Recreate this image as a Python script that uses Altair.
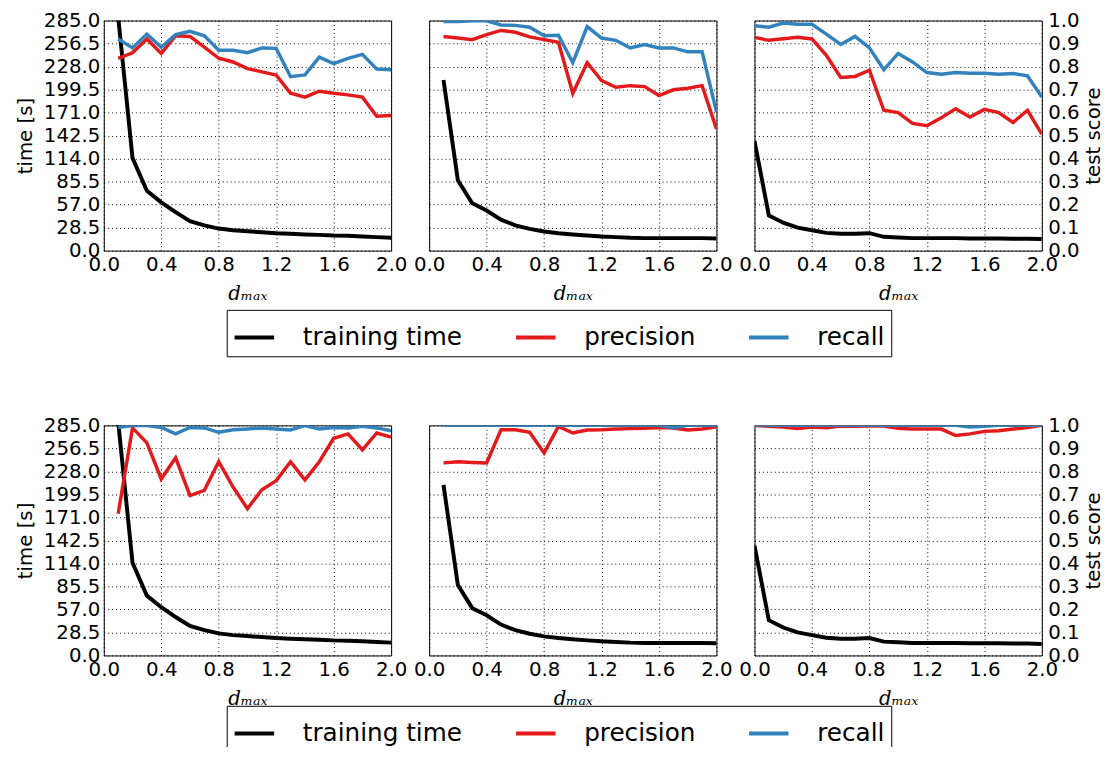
import altair as alt
import pandas as pd

# ---------------- data ----------------
d_a = [0.1, 0.2, 0.3, 0.4, 0.5, 0.6, 0.7, 0.8, 0.9, 1.0,
       1.1, 1.2, 1.3, 1.4, 1.5, 1.6, 1.7, 1.8, 1.9, 2.0]
d_c = [0.0, 0.1, 0.2, 0.3, 0.4, 0.5, 0.6, 0.7, 0.8, 0.9, 1.0,
       1.1, 1.2, 1.3, 1.4, 1.5, 1.6, 1.7, 1.8, 1.9, 2.0]

# training time [s] (same in both rows)
time_1 = [290.0, 114.8, 74.1, 59.8, 47.6, 36.6, 31.3, 27.3, 25.2, 24.0,
          22.8, 21.6, 20.8, 20.0, 19.5, 18.7, 18.3, 17.5, 16.7, 15.9]
time_2 = [211.3, 87.1, 58.6, 49.7, 38.3, 31.3, 26.9, 23.6, 21.6, 20.0,
          18.7, 17.5, 16.7, 15.9, 15.5, 15.5, 15.5, 15.5, 15.5, 15.1]
time_3 = [136.0, 43.6, 34.6, 28.5, 25.2, 22.0, 20.8, 20.8, 21.6, 17.1, 16.3,
          15.5, 15.5, 15.5, 15.5, 15.1, 15.1, 15.1, 14.7, 14.7, 14.3]

# top row scores
prec_1 = [0.836, 0.860, 0.920, 0.857, 0.934, 0.931, 0.884, 0.836, 0.820, 0.791,
          0.777, 0.763, 0.684, 0.667, 0.693, 0.684, 0.677, 0.667, 0.584, 0.587]
rec_1 = [0.920, 0.881, 0.941, 0.884, 0.939, 0.953, 0.934, 0.871, 0.871, 0.860,
         0.881, 0.879, 0.756, 0.764, 0.841, 0.813, 0.836, 0.853, 0.789, 0.786]
prec_2 = [0.931, 0.924, 0.917, 0.939, 0.957, 0.949, 0.929, 0.917, 0.906, 0.684,
          0.817, 0.739, 0.710, 0.717, 0.713, 0.674, 0.699, 0.706, 0.717, 0.529]
rec_2 = [0.996, 0.996, 0.999, 0.999, 0.981, 0.979, 0.971, 0.934, 0.936, 0.817,
         0.974, 0.924, 0.914, 0.881, 0.896, 0.881, 0.881, 0.864, 0.864, 0.603]
prec_3 = [0.927, 0.914, 0.921, 0.927, 0.920, 0.849, 0.753, 0.757, 0.784, 0.610, 0.600,
          0.553, 0.543, 0.577, 0.617, 0.581, 0.614, 0.600, 0.557, 0.610, 0.506]
rec_3 = [0.977, 0.971, 0.989, 0.984, 0.984, 0.941, 0.896, 0.931, 0.881, 0.786, 0.857,
         0.820, 0.774, 0.767, 0.774, 0.771, 0.771, 0.767, 0.770, 0.760, 0.667]

# bottom row scores
prec_4 = [0.616, 0.989, 0.924, 0.767, 0.859, 0.695, 0.718, 0.842, 0.732, 0.638,
          0.720, 0.760, 0.842, 0.763, 0.842, 0.944, 0.963, 0.894, 0.967, 0.949]
rec_4 = [0.991, 0.999, 0.999, 0.991, 0.963, 0.991, 0.989, 0.970, 0.981, 0.984,
         0.989, 0.984, 0.980, 0.999, 0.984, 0.991, 0.989, 0.996, 0.989, 0.977]
prec_5 = [0.837, 0.842, 0.839, 0.837, 0.981, 0.981, 0.970, 0.880, 0.996, 0.967,
          0.980, 0.981, 0.984, 0.986, 0.987, 0.991, 0.989, 0.980, 0.984, 0.994]
rec_5 = [1.0, 1.0, 1.0, 1.0, 1.0, 1.0, 1.0, 1.0, 1.0, 1.0,
         1.0, 1.0, 1.0, 1.0, 1.0, 1.0, 0.990, 1.0, 1.0, 1.0]
prec_6 = [0.999, 0.996, 0.993, 0.986, 0.993, 0.990, 0.997, 0.996, 0.997, 0.997, 0.987,
          0.984, 0.984, 0.984, 0.956, 0.963, 0.974, 0.977, 0.984, 0.991, 1.0]
rec_6 = [1.0, 1.0, 1.0, 1.0, 1.0, 1.0, 1.0, 1.0, 1.0, 1.0, 1.0,
         1.0, 1.0, 1.0, 1.0, 0.993, 0.996, 1.0, 1.0, 1.0, 1.0]

series_names = ["training time", "precision", "recall"]
series_colors = ["#000000", "#e31a1c", "#3182bd"]

x_ticks = [0.0, 0.4, 0.8, 1.2, 1.6, 2.0]
time_ticks = [0.0, 28.5, 57.0, 85.5, 114.0, 142.5, 171.0, 199.5, 228.0, 256.5, 285.0]
score_ticks = [0.0, 0.1, 0.2, 0.3, 0.4, 0.5, 0.6, 0.7, 0.8, 0.9, 1.0]


def make_df(d, t, p, r):
    rows = []
    for name, vals in zip(series_names, [t, p, r]):
        for xv, yv in zip(d, vals):
            rows.append({"d": xv, "series": name, "value": yv})
    return pd.DataFrame(rows)


color_scale = alt.Scale(domain=series_names, range=series_colors)


def make_legend(ly):
    return alt.Legend(
        orient="none", legendX=124.5, legendY=ly, direction="horizontal", title=None,
        symbolType="stroke", symbolSize=1600, symbolStrokeWidth=4,
        labelFontSize=25, labelFont="DejaVu Sans", labelOffset=27, labelLimit=0,
        columnPadding=46, padding=6, strokeColor="black", fillColor="white",
    )


x_axis = alt.Axis(values=x_ticks, format=".1f", grid=True, labelFlush=False,
                  labelOverlap=False, labelPadding=4, title="dₘₐₓ",
                  titleFont="DejaVu Serif", titleFontStyle="italic",
                  titleFontWeight="normal", titleFontSize=20, titlePadding=10)


def panel(df, show_left, show_right, legend):
    if show_left:
        left_axis = alt.Axis(values=time_ticks, format=".1f", grid=True,
                             labelOverlap=False, labelPadding=4,
                             title="time [s]", titleFontWeight="normal",
                             titleFontSize=20, titlePadding=8)
    else:
        left_axis = alt.Axis(values=time_ticks, grid=True, labels=False,
                             title=None)
    base = alt.Chart(df).encode(
        x=alt.X("d:Q", scale=alt.Scale(domain=[0, 2], nice=False), axis=x_axis),
        color=alt.Color("series:N", scale=color_scale, legend=legend),
    )
    t = base.transform_filter(alt.datum.series == "training time").mark_line(
        clip=True, strokeWidth=4
    ).encode(
        y=alt.Y("value:Q", scale=alt.Scale(domain=[0, 285], nice=False), axis=left_axis)
    )
    if show_right:
        right_axis = alt.Axis(orient="right", values=score_ticks, format=".1f",
                              grid=False, labelOverlap=False, labelPadding=6,
                              title="test score", titleFontWeight="normal",
                              titleFontSize=20, titlePadding=5,
                              titleAngle=270, titleBaseline="top")
    else:
        right_axis = None
    s = base.transform_filter(alt.datum.series != "training time").mark_line(
        clip=True, strokeWidth=3.5
    ).encode(
        y=alt.Y("value:Q", scale=alt.Scale(domain=[0, 1], nice=False), axis=right_axis)
    )
    return alt.layer(t, s).resolve_scale(y="independent").properties(width=291, height=233)


leg1 = make_legend(293)
leg2 = make_legend(284)

row1 = alt.hconcat(
    panel(make_df(d_a, time_1, prec_1, rec_1), True, False, leg1),
    panel(make_df(d_a, time_2, prec_2, rec_2), False, False, leg1),
    panel(make_df(d_c, time_3, prec_3, rec_3), False, True, leg1),
    spacing=38.5, bounds="flush",
)
row2 = alt.hconcat(
    panel(make_df(d_a, time_1, prec_4, rec_4), True, False, leg2),
    panel(make_df(d_a, time_2, prec_5, rec_5), False, False, leg2),
    panel(make_df(d_c, time_3, prec_6, rec_6), False, True, leg2),
    spacing=38.5, bounds="flush",
)

chart = alt.vconcat(row1, row2, spacing=58).resolve_scale(color="independent").properties(
    padding={"top": -3, "left": 7, "right": 2, "bottom": -11}
).configure_view(
    stroke="black", strokeWidth=1
).configure_axis(
    labelFont="DejaVu Sans", labelFontSize=20, labelColor="black",
    titleFont="DejaVu Sans", titleColor="black",
    ticks=False, domain=False,
    gridColor="black", gridDash=[1, 3], gridOpacity=1, gridWidth=1,
)

chart.save("out.html", embed_options={"renderer": "svg", "actions": False})
